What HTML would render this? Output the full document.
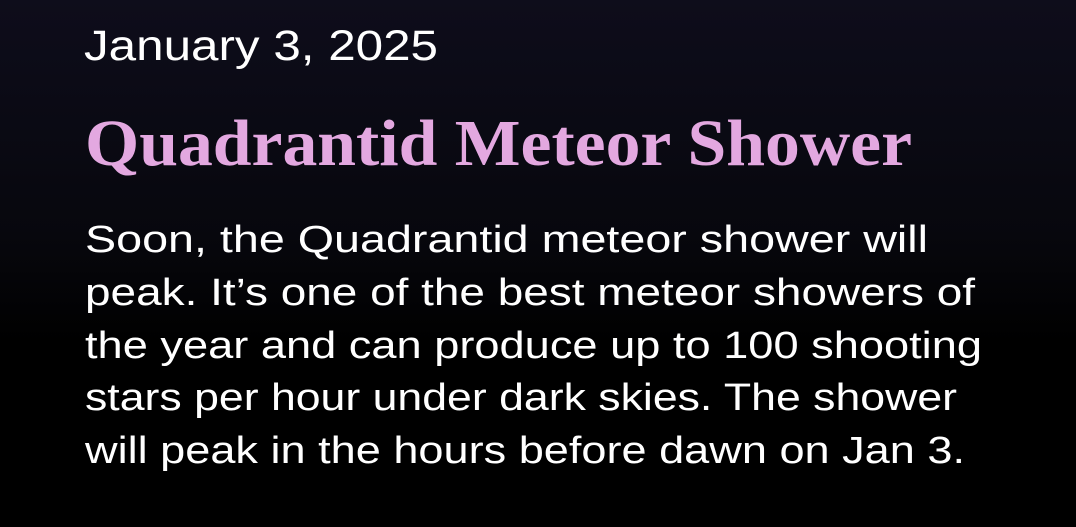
<!DOCTYPE html>
<html><head><meta charset="utf-8"><style>
html,body{margin:0;padding:0;background:#000;}
svg{display:block}
</style></head><body>
<svg width="1076" height="527" viewBox="0 0 1076 527">
<defs><linearGradient id="bg" x1="0" y1="0" x2="0" y2="1">
<stop offset="0" stop-color="#0e0d1b"/><stop offset="0.45" stop-color="#07070d"/><stop offset="0.65" stop-color="#000"/><stop offset="1" stop-color="#000"/></linearGradient></defs>
<rect width="1076" height="527" fill="url(#bg)"/>
<text x="84" y="60" font-family="Liberation Sans, sans-serif" font-size="43" fill="#fff" textLength="354" lengthAdjust="spacingAndGlyphs">January 3, 2025</text>
<text x="85" y="165" font-family="Liberation Serif, serif" font-weight="bold" font-size="66" fill="#e3a8e0" textLength="827" lengthAdjust="spacingAndGlyphs">Quadrantid Meteor Shower</text>
<g font-family="Liberation Sans, sans-serif" font-size="38" fill="#fff">
<text x="85" y="252" textLength="843" lengthAdjust="spacingAndGlyphs">Soon, the Quadrantid meteor shower will</text>
<text x="85" y="305" textLength="890" lengthAdjust="spacingAndGlyphs">peak. It’s one of the best meteor showers of</text>
<text x="85" y="358" textLength="897" lengthAdjust="spacingAndGlyphs">the year and can produce up to 100 shooting</text>
<text x="85" y="410" textLength="872" lengthAdjust="spacingAndGlyphs">stars per hour under dark skies. The shower</text>
<text x="85" y="463" textLength="880" lengthAdjust="spacingAndGlyphs">will peak in the hours before dawn on Jan 3.</text>
</g>
</svg>
</body></html>
